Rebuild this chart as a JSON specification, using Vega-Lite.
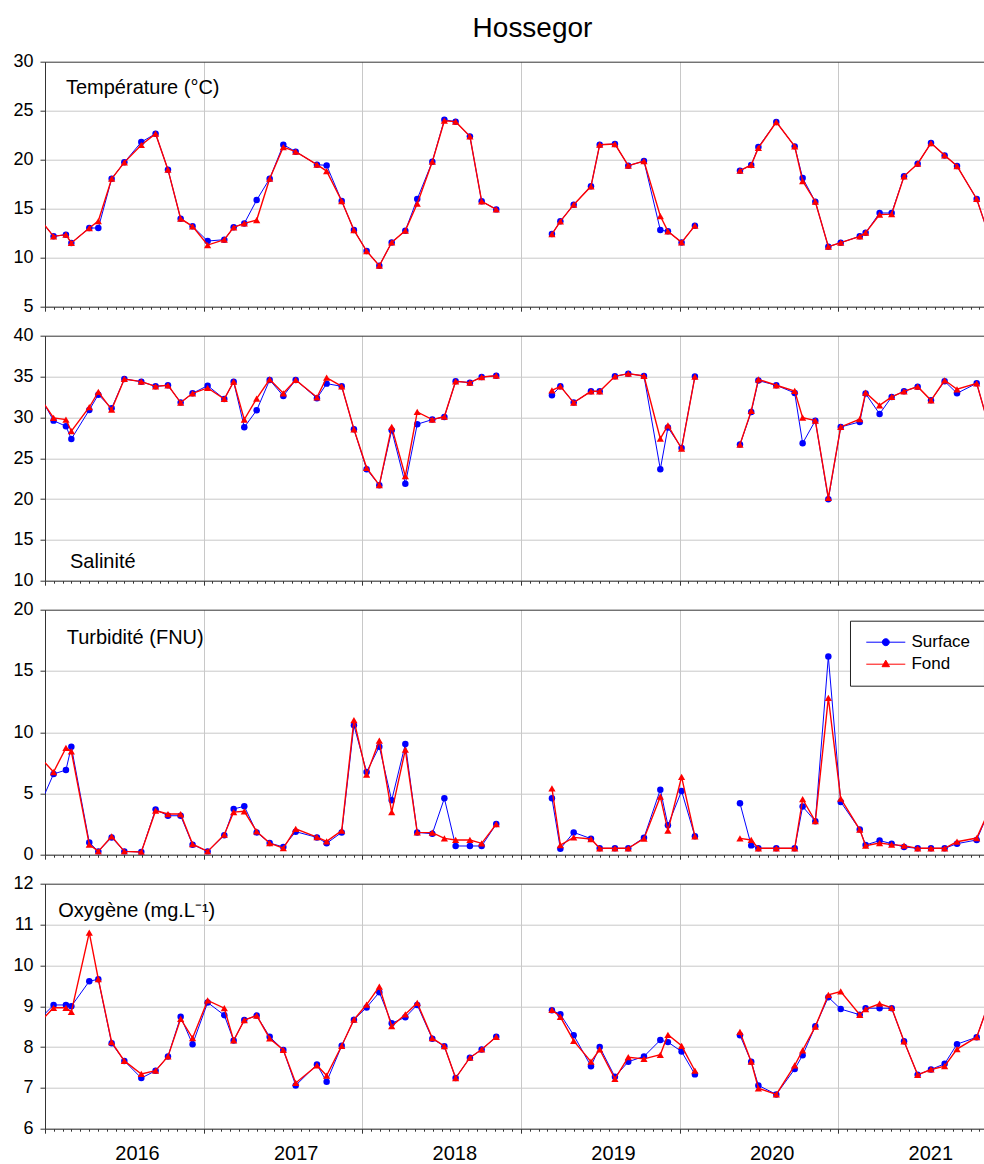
{
  "$schema": "https://vega.github.io/schema/vega-lite/v6.json",
  "padding": {"left": 5, "top": 14.7, "right": 0, "bottom": 0},
  "bounds": "flush",
  "spacing": 29,
  "title": {"text": "Hossegor", "fontSize": 28, "font": "Liberation Sans", "fontWeight": "normal", "color": "#000000", "anchor": "middle", "frame": "group", "dx": 18, "offset": 9.3},
  "datasets": {
    "temp": [
      {"t":2015.97,"g":1,"Surface":13.87,"Fond":13.87},
      {"t":2016.054,"g":1,"Surface":12.18,"Fond":12.18},
      {"t":2016.132,"g":1,"Surface":12.35,"Fond":12.35},
      {"t":2016.166,"g":1,"Surface":11.5,"Fond":11.5},
      {"t":2016.279,"g":1,"Surface":13.03,"Fond":13.03},
      {"t":2016.336,"g":1,"Surface":13.03,"Fond":13.74},
      {"t":2016.42,"g":1,"Surface":18.06,"Fond":18.06},
      {"t":2016.5,"g":1,"Surface":19.73,"Fond":19.73},
      {"t":2016.607,"g":1,"Surface":21.8,"Fond":21.5},
      {"t":2016.697,"g":1,"Surface":22.65,"Fond":22.65},
      {"t":2016.775,"g":1,"Surface":18.98,"Fond":18.98},
      {"t":2016.855,"g":1,"Surface":13.98,"Fond":13.98},
      {"t":2016.93,"g":1,"Surface":13.2,"Fond":13.2},
      {"t":2017.025,"g":1,"Surface":11.7,"Fond":11.29},
      {"t":2017.13,"g":1,"Surface":11.84,"Fond":11.84},
      {"t":2017.189,"g":1,"Surface":13.1,"Fond":13.1},
      {"t":2017.256,"g":1,"Surface":13.5,"Fond":13.5},
      {"t":2017.334,"g":1,"Surface":15.88,"Fond":13.84},
      {"t":2017.416,"g":1,"Surface":18.06,"Fond":18.06},
      {"t":2017.502,"g":1,"Surface":21.53,"Fond":21.29},
      {"t":2017.58,"g":1,"Surface":20.82,"Fond":20.82},
      {"t":2017.714,"g":1,"Surface":19.49,"Fond":19.49},
      {"t":2017.775,"g":1,"Surface":19.42,"Fond":18.84},
      {"t":2017.87,"g":1,"Surface":15.78,"Fond":15.78},
      {"t":2017.947,"g":1,"Surface":12.82,"Fond":12.82},
      {"t":2018.027,"g":1,"Surface":10.68,"Fond":10.68},
      {"t":2018.107,"g":1,"Surface":9.18,"Fond":9.18},
      {"t":2018.185,"g":1,"Surface":11.56,"Fond":11.56},
      {"t":2018.271,"g":1,"Surface":12.76,"Fond":12.76},
      {"t":2018.346,"g":1,"Surface":15.99,"Fond":15.51},
      {"t":2018.441,"g":1,"Surface":19.8,"Fond":19.8},
      {"t":2018.517,"g":1,"Surface":24.08,"Fond":23.98},
      {"t":2018.588,"g":1,"Surface":23.88,"Fond":23.88},
      {"t":2018.678,"g":1,"Surface":22.38,"Fond":22.38},
      {"t":2018.752,"g":1,"Surface":15.75,"Fond":15.75},
      {"t":2018.844,"g":1,"Surface":14.93,"Fond":14.93},
      {"t":2019.195,"g":2,"Surface":12.41,"Fond":12.41},
      {"t":2019.248,"g":2,"Surface":13.71,"Fond":13.71},
      {"t":2019.332,"g":2,"Surface":15.41,"Fond":15.41},
      {"t":2019.441,"g":2,"Surface":17.28,"Fond":17.28},
      {"t":2019.496,"g":2,"Surface":21.53,"Fond":21.53},
      {"t":2019.592,"g":2,"Surface":21.6,"Fond":21.6},
      {"t":2019.676,"g":2,"Surface":19.39,"Fond":19.39},
      {"t":2019.775,"g":2,"Surface":19.86,"Fond":19.86},
      {"t":2019.878,"g":2,"Surface":12.82,"Fond":14.25},
      {"t":2019.926,"g":2,"Surface":12.69,"Fond":12.69},
      {"t":2020.012,"g":2,"Surface":11.56,"Fond":11.56},
      {"t":2020.096,"g":2,"Surface":13.27,"Fond":13.27},
      {"t":2020.38,"g":3,"Surface":18.88,"Fond":18.88},
      {"t":2020.451,"g":3,"Surface":19.46,"Fond":19.46},
      {"t":2020.496,"g":3,"Surface":21.29,"Fond":21.2},
      {"t":2020.609,"g":3,"Surface":23.84,"Fond":23.84},
      {"t":2020.725,"g":3,"Surface":21.36,"Fond":21.36},
      {"t":2020.775,"g":3,"Surface":18.13,"Fond":17.82},
      {"t":2020.855,"g":3,"Surface":15.71,"Fond":15.71},
      {"t":2020.937,"g":3,"Surface":11.12,"Fond":11.12},
      {"t":2021.015,"g":3,"Surface":11.53,"Fond":11.53},
      {"t":2021.135,"g":3,"Surface":12.18,"Fond":12.18},
      {"t":2021.172,"g":3,"Surface":12.55,"Fond":12.55},
      {"t":2021.26,"g":3,"Surface":14.56,"Fond":14.4},
      {"t":2021.336,"g":3,"Surface":14.56,"Fond":14.45},
      {"t":2021.414,"g":3,"Surface":18.3,"Fond":18.3},
      {"t":2021.5,"g":3,"Surface":19.59,"Fond":19.59},
      {"t":2021.584,"g":3,"Surface":21.7,"Fond":21.7},
      {"t":2021.67,"g":3,"Surface":20.44,"Fond":20.44},
      {"t":2021.748,"g":3,"Surface":19.35,"Fond":19.35},
      {"t":2021.872,"g":3,"Surface":15.99,"Fond":15.99},
      {"t":2021.955,"g":3,"Surface":12.0,"Fond":12.0}
    ],
    "sal": [
      {"t":2015.97,"g":1,"Surface":32.52,"Fond":32.34},
      {"t":2016.054,"g":1,"Surface":29.6,"Fond":29.93},
      {"t":2016.132,"g":1,"Surface":28.91,"Fond":29.73},
      {"t":2016.166,"g":1,"Surface":27.36,"Fond":28.3},
      {"t":2016.279,"g":1,"Surface":30.9,"Fond":31.24},
      {"t":2016.336,"g":1,"Surface":32.78,"Fond":33.11},
      {"t":2016.42,"g":1,"Surface":31.11,"Fond":30.95},
      {"t":2016.5,"g":1,"Surface":34.7,"Fond":34.7},
      {"t":2016.607,"g":1,"Surface":34.37,"Fond":34.37},
      {"t":2016.697,"g":1,"Surface":33.8,"Fond":33.8},
      {"t":2016.775,"g":1,"Surface":33.93,"Fond":33.93},
      {"t":2016.855,"g":1,"Surface":31.81,"Fond":31.81},
      {"t":2016.93,"g":1,"Surface":32.95,"Fond":32.95},
      {"t":2017.025,"g":1,"Surface":33.88,"Fond":33.6},
      {"t":2017.13,"g":1,"Surface":32.25,"Fond":32.25},
      {"t":2017.189,"g":1,"Surface":34.37,"Fond":34.37},
      {"t":2017.256,"g":1,"Surface":28.79,"Fond":29.73},
      {"t":2017.334,"g":1,"Surface":30.87,"Fond":32.3},
      {"t":2017.416,"g":1,"Surface":34.58,"Fond":34.66},
      {"t":2017.502,"g":1,"Surface":32.62,"Fond":32.95},
      {"t":2017.58,"g":1,"Surface":34.58,"Fond":34.58},
      {"t":2017.714,"g":1,"Surface":32.34,"Fond":32.46},
      {"t":2017.775,"g":1,"Surface":34.13,"Fond":34.86},
      {"t":2017.87,"g":1,"Surface":33.8,"Fond":33.8},
      {"t":2017.947,"g":1,"Surface":28.54,"Fond":28.54},
      {"t":2018.027,"g":1,"Surface":23.65,"Fond":23.82},
      {"t":2018.107,"g":1,"Surface":21.7,"Fond":21.7},
      {"t":2018.185,"g":1,"Surface":28.42,"Fond":28.83},
      {"t":2018.271,"g":1,"Surface":21.86,"Fond":22.8},
      {"t":2018.346,"g":1,"Surface":29.16,"Fond":30.66},
      {"t":2018.441,"g":1,"Surface":29.73,"Fond":29.73},
      {"t":2018.517,"g":1,"Surface":30.05,"Fond":30.1},
      {"t":2018.588,"g":1,"Surface":34.42,"Fond":34.42},
      {"t":2018.678,"g":1,"Surface":34.25,"Fond":34.25},
      {"t":2018.752,"g":1,"Surface":34.94,"Fond":34.94},
      {"t":2018.844,"g":1,"Surface":35.1,"Fond":35.1},
      {"t":2019.195,"g":2,"Surface":32.7,"Fond":33.31},
      {"t":2019.248,"g":2,"Surface":33.8,"Fond":33.8},
      {"t":2019.332,"g":2,"Surface":31.81,"Fond":31.81},
      {"t":2019.441,"g":2,"Surface":33.19,"Fond":33.19},
      {"t":2019.496,"g":2,"Surface":33.19,"Fond":33.19},
      {"t":2019.592,"g":2,"Surface":35.03,"Fond":35.03},
      {"t":2019.676,"g":2,"Surface":35.35,"Fond":35.35},
      {"t":2019.775,"g":2,"Surface":35.07,"Fond":35.07},
      {"t":2019.878,"g":2,"Surface":23.65,"Fond":27.4},
      {"t":2019.926,"g":2,"Surface":28.75,"Fond":29.03},
      {"t":2020.012,"g":2,"Surface":26.26,"Fond":26.18},
      {"t":2020.096,"g":2,"Surface":34.99,"Fond":34.99},
      {"t":2020.38,"g":3,"Surface":26.67,"Fond":26.67},
      {"t":2020.451,"g":3,"Surface":30.66,"Fond":30.79},
      {"t":2020.496,"g":3,"Surface":34.5,"Fond":34.66},
      {"t":2020.609,"g":3,"Surface":33.93,"Fond":33.93},
      {"t":2020.725,"g":3,"Surface":32.99,"Fond":33.23},
      {"t":2020.775,"g":3,"Surface":26.83,"Fond":29.97},
      {"t":2020.855,"g":3,"Surface":29.6,"Fond":29.6},
      {"t":2020.937,"g":3,"Surface":19.98,"Fond":20.15},
      {"t":2021.015,"g":3,"Surface":28.83,"Fond":28.83},
      {"t":2021.135,"g":3,"Surface":29.44,"Fond":29.77},
      {"t":2021.172,"g":3,"Surface":32.91,"Fond":33.03},
      {"t":2021.26,"g":3,"Surface":30.42,"Fond":31.48},
      {"t":2021.336,"g":3,"Surface":32.5,"Fond":32.5},
      {"t":2021.414,"g":3,"Surface":33.19,"Fond":33.19},
      {"t":2021.5,"g":3,"Surface":33.76,"Fond":33.76},
      {"t":2021.584,"g":3,"Surface":32.09,"Fond":32.09},
      {"t":2021.67,"g":3,"Surface":34.42,"Fond":34.54},
      {"t":2021.748,"g":3,"Surface":32.95,"Fond":33.44},
      {"t":2021.872,"g":3,"Surface":34.17,"Fond":34.17},
      {"t":2021.955,"g":3,"Surface":28.5,"Fond":28.5}
    ],
    "turb": [
      {"t":2015.97,"g":1,"Surface":4.12,"Fond":7.93},
      {"t":2016.054,"g":1,"Surface":6.59,"Fond":6.75},
      {"t":2016.132,"g":1,"Surface":6.91,"Fond":8.71},
      {"t":2016.166,"g":1,"Surface":8.82,"Fond":8.44},
      {"t":2016.279,"g":1,"Surface":1.0,"Fond":0.82},
      {"t":2016.336,"g":1,"Surface":0.27,"Fond":0.27},
      {"t":2016.42,"g":1,"Surface":1.41,"Fond":1.5},
      {"t":2016.5,"g":1,"Surface":0.27,"Fond":0.27},
      {"t":2016.607,"g":1,"Surface":0.22,"Fond":0.22},
      {"t":2016.697,"g":1,"Surface":3.7,"Fond":3.59},
      {"t":2016.775,"g":1,"Surface":3.18,"Fond":3.32},
      {"t":2016.855,"g":1,"Surface":3.18,"Fond":3.32},
      {"t":2016.93,"g":1,"Surface":0.82,"Fond":0.87},
      {"t":2017.025,"g":1,"Surface":0.27,"Fond":0.27},
      {"t":2017.13,"g":1,"Surface":1.58,"Fond":1.63},
      {"t":2017.189,"g":1,"Surface":3.73,"Fond":3.48},
      {"t":2017.256,"g":1,"Surface":3.95,"Fond":3.54},
      {"t":2017.334,"g":1,"Surface":1.82,"Fond":1.9},
      {"t":2017.416,"g":1,"Surface":0.95,"Fond":0.95},
      {"t":2017.502,"g":1,"Surface":0.63,"Fond":0.54},
      {"t":2017.58,"g":1,"Surface":1.88,"Fond":2.1},
      {"t":2017.714,"g":1,"Surface":1.41,"Fond":1.44},
      {"t":2017.775,"g":1,"Surface":0.93,"Fond":1.09},
      {"t":2017.87,"g":1,"Surface":1.82,"Fond":1.96},
      {"t":2017.947,"g":1,"Surface":10.56,"Fond":10.99},
      {"t":2018.027,"g":1,"Surface":6.75,"Fond":6.53},
      {"t":2018.107,"g":1,"Surface":8.82,"Fond":9.31},
      {"t":2018.185,"g":1,"Surface":4.44,"Fond":3.48},
      {"t":2018.271,"g":1,"Surface":9.03,"Fond":8.57},
      {"t":2018.346,"g":1,"Surface":1.82,"Fond":1.82},
      {"t":2018.441,"g":1,"Surface":1.71,"Fond":1.8},
      {"t":2018.517,"g":1,"Surface":4.6,"Fond":1.33},
      {"t":2018.588,"g":1,"Surface":0.71,"Fond":1.2},
      {"t":2018.678,"g":1,"Surface":0.71,"Fond":1.2},
      {"t":2018.752,"g":1,"Surface":0.71,"Fond":0.93},
      {"t":2018.844,"g":1,"Surface":2.5,"Fond":2.5},
      {"t":2019.195,"g":2,"Surface":4.6,"Fond":5.42},
      {"t":2019.248,"g":2,"Surface":0.49,"Fond":0.79},
      {"t":2019.332,"g":2,"Surface":1.82,"Fond":1.41},
      {"t":2019.441,"g":2,"Surface":1.31,"Fond":1.28},
      {"t":2019.496,"g":2,"Surface":0.52,"Fond":0.52},
      {"t":2019.592,"g":2,"Surface":0.52,"Fond":0.52},
      {"t":2019.676,"g":2,"Surface":0.52,"Fond":0.52},
      {"t":2019.775,"g":2,"Surface":1.39,"Fond":1.31},
      {"t":2019.878,"g":2,"Surface":5.31,"Fond":4.74},
      {"t":2019.926,"g":2,"Surface":2.4,"Fond":1.96},
      {"t":2020.012,"g":2,"Surface":5.2,"Fond":6.35},
      {"t":2020.096,"g":2,"Surface":1.5,"Fond":1.5},
      {"t":2020.38,"g":3,"Surface":4.2,"Fond":1.33},
      {"t":2020.451,"g":3,"Surface":0.76,"Fond":1.2},
      {"t":2020.496,"g":3,"Surface":0.52,"Fond":0.52},
      {"t":2020.609,"g":3,"Surface":0.52,"Fond":0.52},
      {"t":2020.725,"g":3,"Surface":0.52,"Fond":0.52},
      {"t":2020.775,"g":3,"Surface":3.93,"Fond":4.53},
      {"t":2020.855,"g":3,"Surface":2.73,"Fond":2.73},
      {"t":2020.937,"g":3,"Surface":16.17,"Fond":12.81},
      {"t":2021.015,"g":3,"Surface":4.31,"Fond":4.58},
      {"t":2021.135,"g":3,"Surface":2.05,"Fond":2.05},
      {"t":2021.172,"g":3,"Surface":0.79,"Fond":0.74},
      {"t":2021.26,"g":3,"Surface":1.15,"Fond":0.95},
      {"t":2021.336,"g":3,"Surface":0.9,"Fond":0.82},
      {"t":2021.414,"g":3,"Surface":0.63,"Fond":0.74},
      {"t":2021.5,"g":3,"Surface":0.52,"Fond":0.52},
      {"t":2021.584,"g":3,"Surface":0.52,"Fond":0.52},
      {"t":2021.67,"g":3,"Surface":0.52,"Fond":0.52},
      {"t":2021.748,"g":3,"Surface":0.9,"Fond":1.06},
      {"t":2021.872,"g":3,"Surface":1.2,"Fond":1.36},
      {"t":2021.955,"g":3,"Surface":3.75,"Fond":3.75}
    ],
    "oxy": [
      {"t":2015.97,"g":1,"Surface":8.7,"Fond":8.62},
      {"t":2016.054,"g":1,"Surface":9.03,"Fond":8.96},
      {"t":2016.132,"g":1,"Surface":9.03,"Fond":8.96},
      {"t":2016.166,"g":1,"Surface":9.0,"Fond":8.86},
      {"t":2016.279,"g":1,"Surface":9.61,"Fond":10.8},
      {"t":2016.336,"g":1,"Surface":9.66,"Fond":9.66},
      {"t":2016.42,"g":1,"Surface":8.09,"Fond":8.12},
      {"t":2016.5,"g":1,"Surface":7.66,"Fond":7.66},
      {"t":2016.607,"g":1,"Surface":7.24,"Fond":7.34},
      {"t":2016.697,"g":1,"Surface":7.42,"Fond":7.42},
      {"t":2016.775,"g":1,"Surface":7.77,"Fond":7.77},
      {"t":2016.855,"g":1,"Surface":8.74,"Fond":8.69},
      {"t":2016.93,"g":1,"Surface":8.07,"Fond":8.22},
      {"t":2017.025,"g":1,"Surface":9.09,"Fond":9.14},
      {"t":2017.13,"g":1,"Surface":8.78,"Fond":8.95},
      {"t":2017.189,"g":1,"Surface":8.16,"Fond":8.16},
      {"t":2017.256,"g":1,"Surface":8.66,"Fond":8.66},
      {"t":2017.334,"g":1,"Surface":8.77,"Fond":8.77},
      {"t":2017.416,"g":1,"Surface":8.25,"Fond":8.21},
      {"t":2017.502,"g":1,"Surface":7.93,"Fond":7.93},
      {"t":2017.58,"g":1,"Surface":7.06,"Fond":7.12},
      {"t":2017.714,"g":1,"Surface":7.57,"Fond":7.55},
      {"t":2017.775,"g":1,"Surface":7.15,"Fond":7.3},
      {"t":2017.87,"g":1,"Surface":8.03,"Fond":8.03},
      {"t":2017.947,"g":1,"Surface":8.67,"Fond":8.67},
      {"t":2018.027,"g":1,"Surface":8.97,"Fond":9.04},
      {"t":2018.107,"g":1,"Surface":9.34,"Fond":9.48},
      {"t":2018.185,"g":1,"Surface":8.58,"Fond":8.51},
      {"t":2018.271,"g":1,"Surface":8.73,"Fond":8.8},
      {"t":2018.346,"g":1,"Surface":9.03,"Fond":9.08},
      {"t":2018.441,"g":1,"Surface":8.2,"Fond":8.22},
      {"t":2018.517,"g":1,"Surface":8.02,"Fond":8.02},
      {"t":2018.588,"g":1,"Surface":7.24,"Fond":7.24},
      {"t":2018.678,"g":1,"Surface":7.74,"Fond":7.74},
      {"t":2018.752,"g":1,"Surface":7.94,"Fond":7.94},
      {"t":2018.844,"g":1,"Surface":8.25,"Fond":8.25},
      {"t":2019.195,"g":2,"Surface":8.9,"Fond":8.91},
      {"t":2019.248,"g":2,"Surface":8.8,"Fond":8.74},
      {"t":2019.332,"g":2,"Surface":8.29,"Fond":8.15},
      {"t":2019.441,"g":2,"Surface":7.53,"Fond":7.64},
      {"t":2019.496,"g":2,"Surface":8.0,"Fond":7.94},
      {"t":2019.592,"g":2,"Surface":7.27,"Fond":7.22},
      {"t":2019.676,"g":2,"Surface":7.64,"Fond":7.75},
      {"t":2019.775,"g":2,"Surface":7.77,"Fond":7.71},
      {"t":2019.878,"g":2,"Surface":8.17,"Fond":7.81},
      {"t":2019.926,"g":2,"Surface":8.12,"Fond":8.3},
      {"t":2020.012,"g":2,"Surface":7.89,"Fond":8.03},
      {"t":2020.096,"g":2,"Surface":7.33,"Fond":7.42},
      {"t":2020.38,"g":3,"Surface":8.29,"Fond":8.37},
      {"t":2020.451,"g":3,"Surface":7.64,"Fond":7.64},
      {"t":2020.496,"g":3,"Surface":7.06,"Fond":6.99},
      {"t":2020.609,"g":3,"Surface":6.84,"Fond":6.84},
      {"t":2020.725,"g":3,"Surface":7.46,"Fond":7.55},
      {"t":2020.775,"g":3,"Surface":7.8,"Fond":7.92},
      {"t":2020.855,"g":3,"Surface":8.51,"Fond":8.5},
      {"t":2020.937,"g":3,"Surface":9.22,"Fond":9.28},
      {"t":2021.015,"g":3,"Surface":8.93,"Fond":9.36},
      {"t":2021.135,"g":3,"Surface":8.79,"Fond":8.79},
      {"t":2021.172,"g":3,"Surface":8.95,"Fond":8.93},
      {"t":2021.26,"g":3,"Surface":8.95,"Fond":9.06},
      {"t":2021.336,"g":3,"Surface":8.95,"Fond":8.96},
      {"t":2021.414,"g":3,"Surface":8.14,"Fond":8.14},
      {"t":2021.5,"g":3,"Surface":7.32,"Fond":7.32},
      {"t":2021.584,"g":3,"Surface":7.45,"Fond":7.45},
      {"t":2021.67,"g":3,"Surface":7.59,"Fond":7.53},
      {"t":2021.748,"g":3,"Surface":8.07,"Fond":7.95},
      {"t":2021.872,"g":3,"Surface":8.24,"Fond":8.24},
      {"t":2021.955,"g":3,"Surface":9.15,"Fond":9.15}
    ]
  },
  "vconcat": [
    {
      "width": 939, "height": 245,
      "title": {"text": "Température (°C)", "orient": "top", "anchor": "start", "frame": "group", "offset": -61.3, "dx": 21, "fontSize": 20, "fontWeight": "normal", "font": "Liberation Sans", "color": "#000000", "baseline": "alphabetic"},
      "data": {"name": "temp"},
      "transform": [{"fold": ["Surface","Fond"], "as": ["series","y"]}],
      "encoding": {
        "x": {"field": "t", "type": "quantitative", "scale": {"domain": [2016, 2021.918], "nice": false, "zero": false},
          "axis": {"title": null, "labels": false, "grid": true,
            "values": [2016,2016.0556,2016.1111,2016.1667,2016.2222,2016.2778,2016.3333,2016.3889,2016.4444,2016.5,2016.5556,2016.6111,2016.6667,2016.7222,2016.7778,2016.8333,2016.8889,2016.9444,2017,2017.0556,2017.1111,2017.1667,2017.2222,2017.2778,2017.3333,2017.3889,2017.4444,2017.5,2017.5556,2017.6111,2017.6667,2017.7222,2017.7778,2017.8333,2017.8889,2017.9444,2018,2018.0556,2018.1111,2018.1667,2018.2222,2018.2778,2018.3333,2018.3889,2018.4444,2018.5,2018.5556,2018.6111,2018.6667,2018.7222,2018.7778,2018.8333,2018.8889,2018.9444,2019,2019.0556,2019.1111,2019.1667,2019.2222,2019.2778,2019.3333,2019.3889,2019.4444,2019.5,2019.5556,2019.6111,2019.6667,2019.7222,2019.7778,2019.8333,2019.8889,2019.9444,2020,2020.0556,2020.1111,2020.1667,2020.2222,2020.2778,2020.3333,2020.3889,2020.4444,2020.5,2020.5556,2020.6111,2020.6667,2020.7222,2020.7778,2020.8333,2020.8889,2020.9444,2021,2021.0556,2021.1111,2021.1667,2021.2222,2021.2778,2021.3333,2021.3889,2021.4444,2021.5,2021.5556,2021.6111,2021.6667,2021.7222,2021.7778,2021.8333,2021.8889],
            "gridOpacity": {"condition": {"test": "abs(datum.value - round(datum.value)) < 0.001", "value": 1}, "value": 0},
            "tickSize": {"condition": {"test": "abs(datum.value - round(datum.value)) < 0.001", "value": 4.5}, "value": 2.5}}},
        "y": {"field": "y", "type": "quantitative", "scale": {"domain": [5, 30], "nice": false, "zero": false},
          "axis": {"title": null, "values": [5,10,15,20,25,30], "gridColor": {"condition": {"test": "datum.value === 30", "value": "#333333"}, "value": "#c8c8c8"}}},
        "color": {"field": "series", "type": "nominal", "scale": {"domain": ["Surface","Fond"], "range": ["#0000ff","#ff0000"]}, "legend": null}
      },
      "layer": [
        {"transform": [{"filter": "datum.series === 'Surface'"}],
         "mark": {"type": "line", "strokeWidth": 1, "clip": true}, "encoding": {"detail": {"field": "g"}}},
        {"transform": [{"filter": "datum.series === 'Surface'"}],
         "mark": {"type": "point", "shape": "circle", "filled": true, "size": 42, "opacity": 1, "clip": true}},
        {"transform": [{"filter": "datum.series === 'Fond'"}],
         "mark": {"type": "line", "strokeWidth": 1.4, "clip": true}, "encoding": {"detail": {"field": "g"}}},
        {"transform": [{"filter": "datum.series === 'Fond'"}],
         "mark": {"type": "point", "shape": "triangle-up", "filled": true, "size": 52, "opacity": 1, "clip": true}}
      ]
    },
    {
      "width": 939, "height": 245,
      "title": {"text": "Salinité", "orient": "bottom", "anchor": "start", "frame": "group", "offset": -21.7, "dx": 25, "fontSize": 20, "fontWeight": "normal", "font": "Liberation Sans", "color": "#000000", "baseline": "alphabetic"},
      "data": {"name": "sal"},
      "transform": [{"fold": ["Surface","Fond"], "as": ["series","y"]}],
      "encoding": {
        "x": {"field": "t", "type": "quantitative", "scale": {"domain": [2016, 2021.918], "nice": false, "zero": false},
          "axis": {"title": null, "labels": false, "grid": true,
            "values": [2016,2016.0556,2016.1111,2016.1667,2016.2222,2016.2778,2016.3333,2016.3889,2016.4444,2016.5,2016.5556,2016.6111,2016.6667,2016.7222,2016.7778,2016.8333,2016.8889,2016.9444,2017,2017.0556,2017.1111,2017.1667,2017.2222,2017.2778,2017.3333,2017.3889,2017.4444,2017.5,2017.5556,2017.6111,2017.6667,2017.7222,2017.7778,2017.8333,2017.8889,2017.9444,2018,2018.0556,2018.1111,2018.1667,2018.2222,2018.2778,2018.3333,2018.3889,2018.4444,2018.5,2018.5556,2018.6111,2018.6667,2018.7222,2018.7778,2018.8333,2018.8889,2018.9444,2019,2019.0556,2019.1111,2019.1667,2019.2222,2019.2778,2019.3333,2019.3889,2019.4444,2019.5,2019.5556,2019.6111,2019.6667,2019.7222,2019.7778,2019.8333,2019.8889,2019.9444,2020,2020.0556,2020.1111,2020.1667,2020.2222,2020.2778,2020.3333,2020.3889,2020.4444,2020.5,2020.5556,2020.6111,2020.6667,2020.7222,2020.7778,2020.8333,2020.8889,2020.9444,2021,2021.0556,2021.1111,2021.1667,2021.2222,2021.2778,2021.3333,2021.3889,2021.4444,2021.5,2021.5556,2021.6111,2021.6667,2021.7222,2021.7778,2021.8333,2021.8889],
            "gridOpacity": {"condition": {"test": "abs(datum.value - round(datum.value)) < 0.001", "value": 1}, "value": 0},
            "tickSize": {"condition": {"test": "abs(datum.value - round(datum.value)) < 0.001", "value": 4.5}, "value": 2.5}}},
        "y": {"field": "y", "type": "quantitative", "scale": {"domain": [10, 40], "nice": false, "zero": false},
          "axis": {"title": null, "values": [10,15,20,25,30,35,40], "gridColor": {"condition": {"test": "datum.value === 40", "value": "#333333"}, "value": "#c8c8c8"}}},
        "color": {"field": "series", "type": "nominal", "scale": {"domain": ["Surface","Fond"], "range": ["#0000ff","#ff0000"]}, "legend": null}
      },
      "layer": [
        {"transform": [{"filter": "datum.series === 'Surface'"}],
         "mark": {"type": "line", "strokeWidth": 1, "clip": true}, "encoding": {"detail": {"field": "g"}}},
        {"transform": [{"filter": "datum.series === 'Surface'"}],
         "mark": {"type": "point", "shape": "circle", "filled": true, "size": 42, "opacity": 1, "clip": true}},
        {"transform": [{"filter": "datum.series === 'Fond'"}],
         "mark": {"type": "line", "strokeWidth": 1.4, "clip": true}, "encoding": {"detail": {"field": "g"}}},
        {"transform": [{"filter": "datum.series === 'Fond'"}],
         "mark": {"type": "point", "shape": "triangle-up", "filled": true, "size": 52, "opacity": 1, "clip": true}}
      ]
    },
    {
      "width": 939, "height": 245,
      "title": {"text": "Turbidité (FNU)", "orient": "top", "anchor": "start", "frame": "group", "offset": -63.5, "dx": 21.7, "fontSize": 20, "fontWeight": "normal", "font": "Liberation Sans", "color": "#000000", "baseline": "alphabetic"},
      "data": {"name": "turb"},
      "transform": [{"fold": ["Surface","Fond"], "as": ["series","y"]}],
      "encoding": {
        "x": {"field": "t", "type": "quantitative", "scale": {"domain": [2016, 2021.918], "nice": false, "zero": false},
          "axis": {"title": null, "labels": false, "grid": true,
            "values": [2016,2016.0556,2016.1111,2016.1667,2016.2222,2016.2778,2016.3333,2016.3889,2016.4444,2016.5,2016.5556,2016.6111,2016.6667,2016.7222,2016.7778,2016.8333,2016.8889,2016.9444,2017,2017.0556,2017.1111,2017.1667,2017.2222,2017.2778,2017.3333,2017.3889,2017.4444,2017.5,2017.5556,2017.6111,2017.6667,2017.7222,2017.7778,2017.8333,2017.8889,2017.9444,2018,2018.0556,2018.1111,2018.1667,2018.2222,2018.2778,2018.3333,2018.3889,2018.4444,2018.5,2018.5556,2018.6111,2018.6667,2018.7222,2018.7778,2018.8333,2018.8889,2018.9444,2019,2019.0556,2019.1111,2019.1667,2019.2222,2019.2778,2019.3333,2019.3889,2019.4444,2019.5,2019.5556,2019.6111,2019.6667,2019.7222,2019.7778,2019.8333,2019.8889,2019.9444,2020,2020.0556,2020.1111,2020.1667,2020.2222,2020.2778,2020.3333,2020.3889,2020.4444,2020.5,2020.5556,2020.6111,2020.6667,2020.7222,2020.7778,2020.8333,2020.8889,2020.9444,2021,2021.0556,2021.1111,2021.1667,2021.2222,2021.2778,2021.3333,2021.3889,2021.4444,2021.5,2021.5556,2021.6111,2021.6667,2021.7222,2021.7778,2021.8333,2021.8889],
            "gridOpacity": {"condition": {"test": "abs(datum.value - round(datum.value)) < 0.001", "value": 1}, "value": 0},
            "tickSize": {"condition": {"test": "abs(datum.value - round(datum.value)) < 0.001", "value": 4.5}, "value": 2.5}}},
        "y": {"field": "y", "type": "quantitative", "scale": {"domain": [0, 20], "nice": false, "zero": false},
          "axis": {"title": null, "values": [0,5,10,15,20], "gridColor": {"condition": {"test": "datum.value === 20", "value": "#333333"}, "value": "#c8c8c8"}}},
        "color": {"field": "series", "type": "nominal", "scale": {"domain": ["Surface","Fond"], "range": ["#0000ff","#ff0000"]},
          "legend": {"title": null, "orient": "none", "legendX": 805, "legendY": 11, "direction": "vertical",
            "strokeColor": "#222222", "fillColor": "#ffffff", "padding": 13, "rowPadding": 4,
            "labelFont": "Liberation Sans", "labelFontSize": 17, "labelColor": "#000000",
            "symbolSize": 100, "symbolOffset": 14.3, "labelOffset": 17.2, "symbolStrokeWidth": 1,
            "encode": {"symbols": {"update": {
              "shape": {"signal": "datum.value === 'Surface' ? 'M-3.9,0H3.9M0.7,0A0.7,0.7,0,1,1,-0.7,0A0.7,0.7,0,1,1,0.7,0Z' : 'M-3.9,0H3.9M0,-0.8L0.75,0.5L-0.75,0.5Z'"},
              "stroke": {"signal": "datum.value === 'Surface' ? '#0000ff' : '#ff0000'"},
              "fill": {"signal": "datum.value === 'Surface' ? '#0000ff' : '#ff0000'"},
              "strokeWidth": {"value": 1},
              "opacity": {"value": 1}}}}}}
      },
      "layer": [
        {"transform": [{"filter": "datum.series === 'Surface'"}],
         "mark": {"type": "line", "strokeWidth": 1, "clip": true}, "encoding": {"detail": {"field": "g"}}},
        {"transform": [{"filter": "datum.series === 'Surface'"}],
         "mark": {"type": "point", "shape": "circle", "filled": true, "size": 42, "opacity": 1, "clip": true}},
        {"transform": [{"filter": "datum.series === 'Fond'"}],
         "mark": {"type": "line", "strokeWidth": 1.4, "clip": true}, "encoding": {"detail": {"field": "g"}}},
        {"transform": [{"filter": "datum.series === 'Fond'"}],
         "mark": {"type": "point", "shape": "triangle-up", "filled": true, "size": 52, "opacity": 1, "clip": true}}
      ]
    },
    {
      "width": 939, "height": 245,
      "title": {"text": "Oxygène (mg.L⁻¹)", "orient": "top", "anchor": "start", "frame": "group", "offset": -62.5, "dx": 13.3, "fontSize": 20, "fontWeight": "normal", "font": "Liberation Sans", "color": "#000000", "baseline": "alphabetic"},
      "data": {"name": "oxy"},
      "transform": [{"fold": ["Surface","Fond"], "as": ["series","y"]}],
      "encoding": {
        "x": {"field": "t", "type": "quantitative", "scale": {"domain": [2016, 2021.918], "nice": false, "zero": false},
          "axis": {"title": null, "labels": true, "grid": true, "labelOffset": 92, "labelAlign": "center", "labelFontSize": 20, "labelPadding": 10,
            "labelExpr": "abs(datum.value - round(datum.value)) < 0.001 ? format(datum.value, 'd') : ''",
            "values": [2016,2016.0556,2016.1111,2016.1667,2016.2222,2016.2778,2016.3333,2016.3889,2016.4444,2016.5,2016.5556,2016.6111,2016.6667,2016.7222,2016.7778,2016.8333,2016.8889,2016.9444,2017,2017.0556,2017.1111,2017.1667,2017.2222,2017.2778,2017.3333,2017.3889,2017.4444,2017.5,2017.5556,2017.6111,2017.6667,2017.7222,2017.7778,2017.8333,2017.8889,2017.9444,2018,2018.0556,2018.1111,2018.1667,2018.2222,2018.2778,2018.3333,2018.3889,2018.4444,2018.5,2018.5556,2018.6111,2018.6667,2018.7222,2018.7778,2018.8333,2018.8889,2018.9444,2019,2019.0556,2019.1111,2019.1667,2019.2222,2019.2778,2019.3333,2019.3889,2019.4444,2019.5,2019.5556,2019.6111,2019.6667,2019.7222,2019.7778,2019.8333,2019.8889,2019.9444,2020,2020.0556,2020.1111,2020.1667,2020.2222,2020.2778,2020.3333,2020.3889,2020.4444,2020.5,2020.5556,2020.6111,2020.6667,2020.7222,2020.7778,2020.8333,2020.8889,2020.9444,2021,2021.0556,2021.1111,2021.1667,2021.2222,2021.2778,2021.3333,2021.3889,2021.4444,2021.5,2021.5556,2021.6111,2021.6667,2021.7222,2021.7778,2021.8333,2021.8889],
            "gridOpacity": {"condition": {"test": "abs(datum.value - round(datum.value)) < 0.001", "value": 1}, "value": 0},
            "tickSize": {"condition": {"test": "abs(datum.value - round(datum.value)) < 0.001", "value": 4.5}, "value": 2.5}}},
        "y": {"field": "y", "type": "quantitative", "scale": {"domain": [6, 12], "nice": false, "zero": false},
          "axis": {"title": null, "values": [6,7,8,9,10,11,12], "gridColor": {"condition": {"test": "datum.value === 12", "value": "#333333"}, "value": "#c8c8c8"}}},
        "color": {"field": "series", "type": "nominal", "scale": {"domain": ["Surface","Fond"], "range": ["#0000ff","#ff0000"]}, "legend": null}
      },
      "layer": [
        {"transform": [{"filter": "datum.series === 'Surface'"}],
         "mark": {"type": "line", "strokeWidth": 1, "clip": true}, "encoding": {"detail": {"field": "g"}}},
        {"transform": [{"filter": "datum.series === 'Surface'"}],
         "mark": {"type": "point", "shape": "circle", "filled": true, "size": 42, "opacity": 1, "clip": true}},
        {"transform": [{"filter": "datum.series === 'Fond'"}],
         "mark": {"type": "line", "strokeWidth": 1.4, "clip": true}, "encoding": {"detail": {"field": "g"}}},
        {"transform": [{"filter": "datum.series === 'Fond'"}],
         "mark": {"type": "point", "shape": "triangle-up", "filled": true, "size": 52, "opacity": 1, "clip": true}}
      ]
    }
  ],
  "resolve": {"legend": {"color": "independent"}},
  "config": {
    "font": "Liberation Sans",
    "view": {"stroke": null},
    "axis": {"domainColor": "#333333", "domainWidth": 1, "tickColor": "#333333", "tickWidth": 1, "labelColor": "#000000", "labelFont": "Liberation Sans", "gridColor": "#c8c8c8", "gridWidth": 1},
    "axisY": {"labelFontSize": 18, "tickSize": 5, "labelPadding": 7, "minExtent": 40, "maxExtent": 40},
    "axisX": {"labelFontSize": 21, "labelPadding": 12, "labelOverlap": false, "labelFlush": false, "labelBound": false}
  }
}
